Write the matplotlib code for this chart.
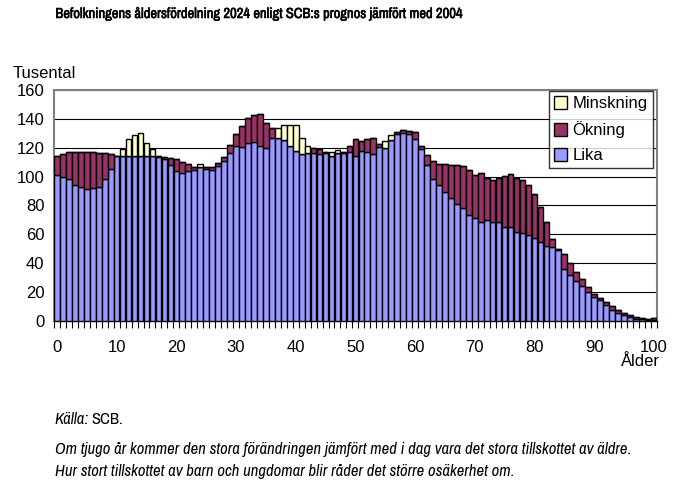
import matplotlib
matplotlib.use("Agg")
import matplotlib.pyplot as plt
from matplotlib import font_manager
import matplotlib.patheffects as pe
from matplotlib.patches import Patch
from matplotlib.ticker import MultipleLocator, FixedLocator
import numpy as np

# Tusental per ålder 0..100 (avläst)
ages = list(range(101))
lika = [100.9, 99.9, 98.1, 93.9, 93.0, 91.6, 92.3, 93.0, 98.1, 105.0,
        114.2, 114.2, 114.2, 114.2, 114.2, 114.2, 114.2, 113.5, 112.0, 107.8,
        103.9, 102.3, 103.9, 104.6, 106.9, 105.5, 104.6, 107.3, 110.8, 116.1,
        121.2, 120.7, 123.5, 124.0, 121.2, 120.0, 126.5, 127.0, 125.3, 121.2,
        117.7, 115.4, 116.6, 116.6, 115.4, 116.6, 114.2, 116.1, 116.6, 117.0,
        114.5, 117.7, 117.3, 115.4, 120.7, 120.0, 125.1, 129.7, 130.4, 129.3,
        126.3, 118.9, 107.8, 98.7, 94.0, 89.4, 85.3, 81.2, 78.4, 73.3,
        71.0, 68.7, 70.3, 68.7, 68.7, 65.2, 65.2, 61.5, 61.0, 59.9,
        57.6, 54.8, 51.8, 51.2, 49.5, 36.3, 32.1, 27.7, 24.0, 20.1,
        16.6, 14.3, 10.9, 7.9, 5.8, 3.9, 2.8, 1.6, 1.2, 0.9,
        0.8]
okning = [13.3, 15.9, 18.9, 23.1, 24.0, 25.4, 24.7, 23.6, 18.0, 10.9,
          0.0, 0.0, 0.0, 0.0, 0.0, 0.0, 0.0, 0.7, 1.8, 5.3,
          8.0, 7.8, 4.6, 2.0, 0.0, 1.4, 2.0, 1.9, 3.0, 5.8,
          8.5, 14.3, 16.8, 18.7, 22.4, 17.3, 6.9, 0.0, 0.0, 0.0,
          0.0, 0.0, 0.0, 3.0, 3.9, 0.4, 0.0, 0.0, 0.4, 4.2,
          11.5, 6.9, 8.5, 11.1, 1.6, 0.0, 0.0, 1.4, 1.9, 2.3,
          4.6, 2.3, 7.2, 12.1, 14.5, 19.1, 22.5, 26.8, 28.9, 31.2,
          30.0, 33.5, 28.9, 29.3, 30.5, 35.1, 36.3, 37.7, 36.6, 34.0,
          30.7, 24.3, 16.6, 5.8, 0.2, 9.9, 8.1, 6.3, 4.9, 3.5,
          2.3, 1.9, 2.3, 2.3, 2.1, 1.6, 1.1, 1.2, 0.9, 0.7,
          1.5]
minskning = [0.0] * 11 + [5.1, 11.6, 14.6, 16.2, 9.3, 5.1] + [0.0] * 7 + [1.6] \
    + [0.0] * 12 + [6.4, 10.4, 14.5, 18.0, 11.1, 4.6] + [0.0] * 3 + [2.8, 2.3] \
    + [0.0] * 7 + [4.6, 3.7] + [0.0] * 44

font = "Liberation Sans"

# A narrow face for title and notes, if one is installed
narrow, stretch = "Liberation Sans", "normal"
for f in font_manager.fontManager.ttflist:
    if "Narrow" in f.name or "Condensed" in f.name:
        narrow, stretch = f.name, "normal"
        break
    if f.stretch in ("condensed", "semi-condensed") and f.name == "DejaVu Sans":
        narrow, stretch = "DejaVu Sans", "condensed"

fig = plt.figure(figsize=(6.75, 5), dpi=100)
ax = fig.add_axes([0.080, 0.358, 0.893, 0.462])

bar_kw = dict(width=0.95, edgecolor="black", linewidth=1.0, zorder=3)
ax.bar(ages, lika, color="#9999FF", **bar_kw)
ax.bar(ages, okning, bottom=lika, color="#993366", **bar_kw)
top = np.array(lika) + np.array(okning)
ax.bar(ages, minskning, bottom=top, color="#FFFFCC", **bar_kw)

ax.set_xlim(-0.5, 100.5)
ax.set_ylim(0, 160)
ax.yaxis.set_major_locator(MultipleLocator(20))
ax.grid(axis="y", color="black", linewidth=0.8, zorder=0)
ax.set_axisbelow(True)

ax.xaxis.set_major_locator(FixedLocator(list(range(0, 101, 10))))
ax.xaxis.set_minor_locator(FixedLocator(np.arange(-0.5, 101, 1)))
ax.tick_params(axis="x", which="major", length=0, pad=14)
ax.tick_params(axis="x", which="minor", length=5, width=0.8, direction="out")
ax.tick_params(axis="y", length=0, pad=7)
for lab in ax.get_xticklabels() + ax.get_yticklabels():
    lab.set_fontfamily(font)
    lab.set_fontsize(12)

for side in ("top", "right", "left"):
    ax.spines[side].set_color("#808080")
    ax.spines[side].set_linewidth(1.5)
ax.spines["bottom"].set_color("black")
ax.spines["bottom"].set_linewidth(1.0)

handles = [Patch(facecolor="#FFFFCC", edgecolor="black", label="Minskning"),
           Patch(facecolor="#993366", edgecolor="black", label="Ökning"),
           Patch(facecolor="#9999FF", edgecolor="black", label="Lika")]
leg = ax.legend(handles=handles, loc="upper right", bbox_to_anchor=(0.993, 0.995),
                prop={"family": font, "size": 12}, frameon=True, fancybox=False,
                handlelength=0.8, handleheight=0.8, handletextpad=0.3,
                labelspacing=0.6, borderpad=0.3, borderaxespad=0)
leg.get_frame().set_edgecolor("black")
leg.get_frame().set_linewidth(1.0)
leg.set_zorder(5)

fig.text(0.019, 0.852, "Tusental", family=font, fontsize=12, va="center")
fig.text(0.978, 0.276, "Ålder", family=font, fontsize=12, va="center", ha="right")

title = fig.text(0.082, 0.972,
                 "Befolkningens åldersfördelning 2024 enligt SCB:s prognos jämfört med 2004",
                 family=narrow, stretch=stretch, weight="bold", fontsize=12, va="center")
title.set_path_effects([pe.withStroke(linewidth=0.4, foreground="black")])
kalla = fig.text(0.081, 0.162, "Källa:", family=narrow, stretch=stretch, style="italic",
                 fontsize=11, va="center")
scb = fig.text(0.135, 0.162, "SCB.", family=narrow, stretch=stretch, fontsize=11, va="center")
note1 = fig.text(0.081, 0.101,
                 "Om tjugo år kommer den stora förändringen jämfört med i dag vara det stora tillskottet av äldre.",
                 family=narrow, stretch=stretch, style="italic", fontsize=11, va="center")
note2 = fig.text(0.081, 0.057,
                 "Hur stort tillskottet av barn och ungdomar blir råder det större osäkerhet om.",
                 family=narrow, stretch=stretch, style="italic", fontsize=11, va="center")

# fit the texts to the widths they take in the reference
renderer = fig.canvas.get_renderer()
for txt, width_px in ((title, 407), (note1, 577)):
    w = txt.get_window_extent(renderer).width
    txt.set_fontsize(txt.get_fontsize() * width_px / w)
note2.set_fontsize(note1.get_fontsize())
kalla.set_fontsize(note1.get_fontsize())
scb.set_fontsize(note1.get_fontsize())
kx = kalla.get_window_extent(renderer).x1 / fig.bbox.width
scb.set_x(kx + 0.004)

fig.savefig("out.png", dpi=100)
